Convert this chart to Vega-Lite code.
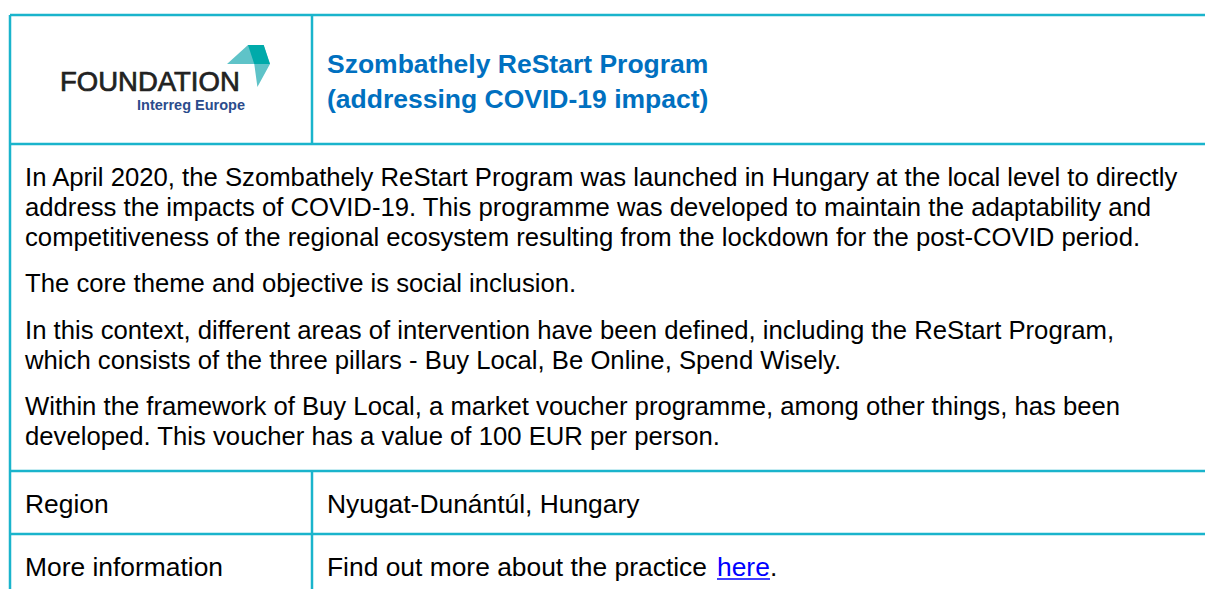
{
  "$schema": "https://vega.github.io/schema/vega-lite/v6.json",
  "width": 1205,
  "height": 589,
  "autosize": "none",
  "padding": 0,
  "background": "white",
  "config": {"view": {"stroke": null}, "axis": {"disable": true}},
  "datasets": {
    "rules": [
      {"kind": "border", "x": 10, "y": 15, "x2": 1205, "y2": 15},
      {"kind": "border", "x": 10, "y": 15, "x2": 10, "y2": 589},
      {"kind": "border", "x": 312, "y": 15, "x2": 312, "y2": 144},
      {"kind": "border", "x": 10, "y": 144, "x2": 1205, "y2": 144},
      {"kind": "border", "x": 10, "y": 471, "x2": 1205, "y2": 471},
      {"kind": "border", "x": 10, "y": 534, "x2": 1205, "y2": 534},
      {"kind": "border", "x": 312, "y": 471, "x2": 312, "y2": 589},
      {"kind": "link", "x": 717, "y": 579, "x2": 770, "y2": 579}
    ],
    "logo": [
      {"part": "light", "x": 248.5, "y": 66},
      {"part": "dark", "x": 248.5, "y": 66}
    ],
    "texts": [
      {"kind": "logo", "text": "FOUNDATION", "x": 60, "y": 83},
      {"kind": "logosub", "text": "Interreg Europe", "x": 137, "y": 106},
      {"kind": "title", "text": "Szombathely ReStart Program", "x": 327, "y": 65},
      {"kind": "title", "text": "(addressing COVID-19 impact)", "x": 327, "y": 100},
      {"kind": "para", "text": "In April 2020, the Szombathely ReStart Program was launched in Hungary at the local level to directly", "x": 25, "y": 178},
      {"kind": "para", "text": "address the impacts of COVID-19. This programme was developed to maintain the adaptability and", "x": 25, "y": 208},
      {"kind": "para", "text": "competitiveness of the regional ecosystem resulting from the lockdown for the post-COVID period.", "x": 25, "y": 238},
      {"kind": "para", "text": "The core theme and objective is social inclusion.", "x": 25, "y": 284},
      {"kind": "para", "text": "In this context, different areas of intervention have been defined, including the ReStart Program,", "x": 25, "y": 331},
      {"kind": "para", "text": "which consists of the three pillars - Buy Local, Be Online, Spend Wisely.", "x": 25, "y": 361},
      {"kind": "para", "text": "Within the framework of Buy Local, a market voucher programme, among other things, has been", "x": 25, "y": 407},
      {"kind": "para", "text": "developed. This voucher has a value of 100 EUR per person.", "x": 25, "y": 437},
      {"kind": "cell", "text": "Region", "x": 25, "y": 505},
      {"kind": "cell", "text": "Nyugat-Dunántúl, Hungary", "x": 327, "y": 505},
      {"kind": "cell", "text": "More information", "x": 25, "y": 568},
      {"kind": "cell", "text": "Find out more about the practice", "x": 327, "y": 568},
      {"kind": "link", "text": "here", "x": 717, "y": 568},
      {"kind": "cell", "text": ".", "x": 770, "y": 568}
    ]
  },
  "encoding": {
    "x": {"field": "x", "type": "quantitative", "scale": {"domain": [0, 1205], "nice": false, "zero": false}, "axis": null},
    "y": {"field": "y", "type": "quantitative", "scale": {"domain": [0, 589], "nice": false, "zero": false, "reverse": true}, "axis": null}
  },
  "layer": [
    {
      "data": {"name": "rules"},
      "transform": [{"filter": "datum.kind === 'border'"}],
      "mark": {"type": "rule", "strokeWidth": 2.5, "color": "#1ab4cc"},
      "encoding": {"x2": {"field": "x2"}, "y2": {"field": "y2"}}
    },
    {
      "data": {"name": "rules"},
      "transform": [{"filter": "datum.kind === 'link'"}],
      "mark": {"type": "rule", "strokeWidth": 1.5, "color": "#0000ff"},
      "encoding": {"x2": {"field": "x2"}, "y2": {"field": "y2"}}
    },
    {
      "data": {"name": "logo"},
      "mark": {"type": "point", "filled": true, "opacity": 1, "strokeWidth": 0, "size": 1936},
      "encoding": {
        "shape": {"field": "part", "type": "nominal", "scale": {"domain": ["light", "dark"], "range": ["M-0.024,-0.952L0.69,-0.952L0.976,-0.095L0.405,0.952L0.262,-0.095L-0.976,-0.095Z", "M-0.024,-0.952L0.69,-0.952L0.976,-0.095L0.262,-0.095Z"]}, "legend": null},
        "color": {"field": "part", "type": "nominal", "scale": {"domain": ["light", "dark"], "range": ["#5fc3c8", "#00aaaa"]}, "legend": null}
      }
    },
    {
      "data": {"name": "texts"},
      "transform": [{"filter": "datum.kind === 'para'"}],
      "mark": {"type": "text", "align": "left", "baseline": "middle", "font": "Liberation Sans", "fontSize": 25.7, "color": "#000000"},
      "encoding": {"text": {"field": "text"}}
    },
    {
      "data": {"name": "texts"},
      "transform": [{"filter": "datum.kind === 'cell'"}],
      "mark": {"type": "text", "align": "left", "baseline": "middle", "font": "Liberation Sans", "fontSize": 26.4, "color": "#000000"},
      "encoding": {"text": {"field": "text"}}
    },
    {
      "data": {"name": "texts"},
      "transform": [{"filter": "datum.kind === 'link'"}],
      "mark": {"type": "text", "align": "left", "baseline": "middle", "font": "Liberation Sans", "fontSize": 26.4, "color": "#0000ff"},
      "encoding": {"text": {"field": "text"}}
    },
    {
      "data": {"name": "texts"},
      "transform": [{"filter": "datum.kind === 'title'"}],
      "mark": {"type": "text", "align": "left", "baseline": "middle", "font": "Liberation Sans", "fontSize": 26.5, "fontWeight": "bold", "color": "#0070c0"},
      "encoding": {"text": {"field": "text"}}
    },
    {
      "data": {"name": "texts"},
      "transform": [{"filter": "datum.kind === 'logo'"}],
      "mark": {"type": "text", "align": "left", "baseline": "middle", "font": "Liberation Sans", "fontSize": 27.5, "color": "#222222", "stroke": "#222222", "strokeWidth": 0.7},
      "encoding": {"text": {"field": "text"}}
    },
    {
      "data": {"name": "texts"},
      "transform": [{"filter": "datum.kind === 'logosub'"}],
      "mark": {"type": "text", "align": "left", "baseline": "middle", "font": "Liberation Sans", "fontSize": 14.5, "fontWeight": "bold", "color": "#2b4c8c"},
      "encoding": {"text": {"field": "text"}}
    }
  ]
}
